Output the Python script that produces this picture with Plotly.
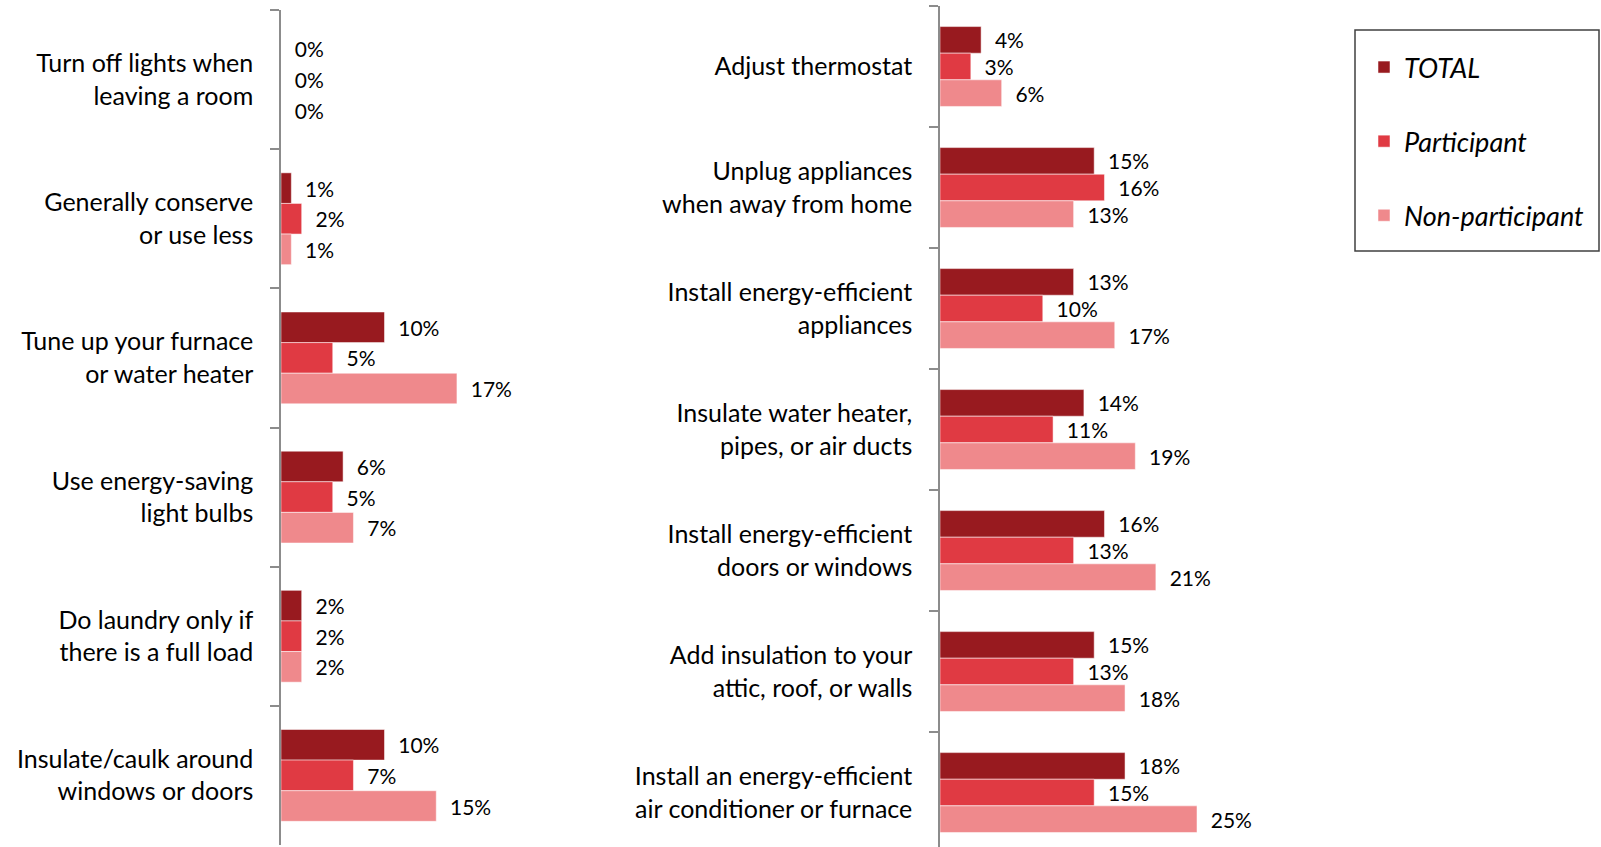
import plotly.graph_objects as go

series_names = ["TOTAL", "Participant", "Non-participant"]
colors = ["#981A1F", "#E03A43", "#EF898C"]

left_cats = ["Turn off lights when<br>leaving a room", "Generally conserve<br>or use less",
             "Tune up your furnace<br>or water heater", "Use energy-saving<br>light bulbs",
             "Do laundry only if<br>there is a full load", "Insulate/caulk around<br>windows or doors"]
left_total = [0, 1, 10, 6, 2, 10]
left_part = [0, 2, 5, 5, 2, 7]
left_non = [0, 1, 17, 7, 2, 15]

right_cats = ["Adjust thermostat", "Unplug appliances<br>when away from home",
              "Install energy-efficient<br>appliances", "Insulate water heater,<br>pipes, or air ducts",
              "Install energy-efficient<br>doors or windows", "Add insulation to your<br>attic, roof, or walls",
              "Install an energy-efficient<br>air conditioner or furnace"]
right_total = [4, 15, 13, 14, 16, 15, 18]
right_part = [3, 16, 10, 11, 13, 13, 15]
right_non = [6, 13, 17, 19, 21, 18, 25]

FONT = "Lato"
W, H = 1601, 847

fig = go.Figure()
left_vals = [left_total, left_part, left_non]
right_vals = [right_total, right_part, right_non]
for i, name in enumerate(series_names):
    fig.add_trace(go.Bar(
        y=left_cats, x=left_vals[i], orientation="h", name=name,
        marker=dict(color=colors[i], line=dict(color="rgba(255,255,255,0.5)", width=1)),
        texttemplate="\u00a0\u00a0%{x}%", textposition="outside", cliponaxis=False,
        textfont=dict(family=FONT, size=21, color="#000"),
        legendgroup=name, showlegend=True, xaxis="x", yaxis="y", constraintext="none"))
for i, name in enumerate(series_names):
    fig.add_trace(go.Bar(
        y=right_cats, x=right_vals[i], orientation="h", name=name,
        marker=dict(color=colors[i], line=dict(color="rgba(255,255,255,0.5)", width=1)),
        texttemplate="\u00a0\u00a0%{x}%", textposition="outside", cliponaxis=False,
        textfont=dict(family=FONT, size=21, color="#000"),
        legendgroup=name, showlegend=False, xaxis="x2", yaxis="y2", constraintext="none"))

yax = dict(type="category", ticks="outside", ticklen=9, tickcolor="#8c8c8c", tickwidth=1.5,
           tickson="boundaries", showline=True, linecolor="#8c8c8c", linewidth=1.5,
           showgrid=False, zeroline=False, ticklabelstandoff=21,
           tickfont=dict(family=FONT, size=25, color="#000"))

fig.update_layout(
    width=W, height=H, autosize=False,
    margin=dict(l=0, r=0, t=0, b=0),
    paper_bgcolor="white", plot_bgcolor="white",
    barmode="group", bargap=0.34, bargroupgap=0,
    xaxis=dict(domain=[281 / W, 600 / W], range=[0, 319 / 10.35], visible=False),
    yaxis=dict(yax, domain=[(H - 845) / H, (H - 10) / H], range=[5.5, -0.5]),
    xaxis2=dict(domain=[940 / W, 1300 / W], range=[0, 360 / 10.28], visible=False, anchor="y2"),
    yaxis2=dict(yax, domain=[0, (H - 6) / H], range=[6.45, -0.5], anchor="x2"),
    legend=dict(x=1364 / W, y=(H - 43) / H, xanchor="left", yanchor="top",
                borderwidth=0, bgcolor="rgba(0,0,0,0)",
                font=dict(family=FONT, size=27, color="#000", style="italic"),
                tracegroupgap=36, traceorder="grouped"),
    shapes=[dict(type="rect", xref="paper", yref="paper",
                 x0=1355 / W, x1=1599 / W, y0=(H - 251) / H, y1=(H - 30) / H,
                 line=dict(color="#404040", width=1.5), fillcolor="rgba(0,0,0,0)")],
)

fig.write_html("out.html", config={"displayModeBar": False},
               post_script="document.body.style.margin='0';")
